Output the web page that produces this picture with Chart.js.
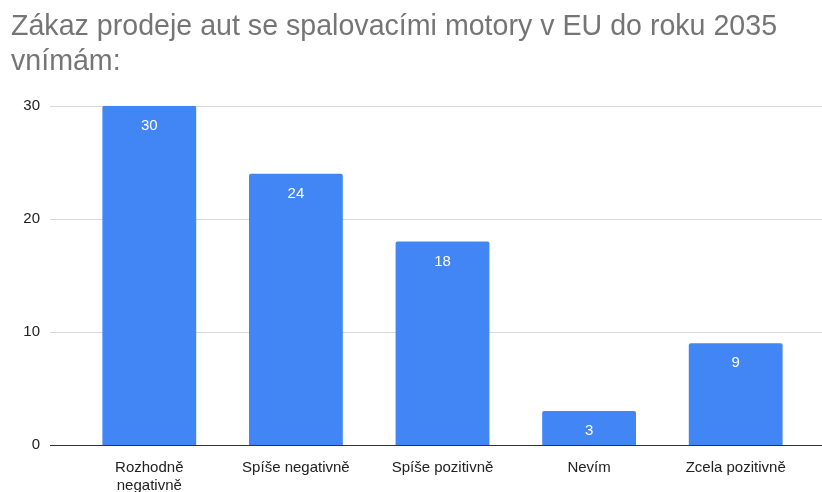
<!DOCTYPE html>
<html>
<head>
<meta charset="utf-8">
<script src="https://cdn.jsdelivr.net/npm/chart.js@4"></script>
<style>
  html, body { margin: 0; padding: 0; background: #fff; }
  #wrap { width: 822px; height: 492px; position: relative; }
</style>
</head>
<body>
<div id="wrap"><canvas id="c"></canvas></div>
<script>
// data
const categories = [['Rozhodně', 'negativně'], 'Spíše negativně', 'Spíše pozitivně', 'Nevím', 'Zcela pozitivně'];
const counts = [30, 24, 18, 3, 9];
const yTicks = [0, 10, 20, 30];
const titleLines = ['Zákaz prodeje aut se spalovacími motory v EU do roku 2035', 'vnímám:'];

const barBlue = '#4285f4';
const fontFam = '"Liberation Sans", Arial, sans-serif';

//gridlines run wider than the plot area, so draw them here
const gridPlugin = {
	id: 'wideGrid',
	beforeDatasetsDraw(chart) {
		const ctx = chart.ctx;
		const y = chart.scales.y;
		ctx.save();
		yTicks.forEach((v) => {
			const py = Math.round(y.getPixelForValue(v)) + 0.5;
			ctx.strokeStyle = v === 0 ? '#333333' : '#d9d9d9';
			ctx.lineWidth = 1;
			ctx.beginPath();
			ctx.moveTo(50, py);
			ctx.lineTo(chart.width, py);
			ctx.stroke();
		});
		ctx.restore();
	}
};

//white value labels inside the top of each bar
const valuePlugin = {
	id: 'values',
	afterDatasetsDraw(chart) {
		const ctx = chart.ctx;
		const meta = chart.getDatasetMeta(0);
		ctx.save();
		ctx.fillStyle = '#ffffff';
		ctx.font = '15px ' + fontFam;
		ctx.textAlign = 'center';
		ctx.textBaseline = 'middle';
		meta.data.forEach((bar, i) => {
			ctx.fillText(String(counts[i]), bar.x, bar.y + 20);
		});
		ctx.restore();
	}
};

new Chart(document.getElementById('c'), {
	type: 'bar',
	data: {
		labels: categories,
		datasets: [{
			data: counts,
			backgroundColor: barBlue,
			borderRadius: 2,
			categoryPercentage: 1,
			barPercentage: 0.64
		}]
	},
	options: {
		responsive: true,
		maintainAspectRatio: false,
		animation: false,
		layout: { padding: { left: 11, right: 13, top: 0, bottom: 0 } },
		plugins: {
			legend: { display: false },
			tooltip: { enabled: false },
			title: {
				display: true,
				text: titleLines,
				align: 'start',
				color: '#757575',
				font: { family: fontFam, size: 28.6, weight: 'normal', lineHeight: 1.22 },
				padding: { top: 10, bottom: 26 }
			}
		},
		scales: {
			x: {
				grid: { display: false },
				border: { display: false },
				ticks: {
					color: '#222222',
					font: { family: fontFam, size: 15, lineHeight: 1.25 },
					padding: 5,
					maxRotation: 0,
					autoSkip: false
				},
				afterFit(scale) { scale.height = 47; }
			},
			y: {
				min: 0,
				max: 30,
				grid: { display: false },
				border: { display: false },
				ticks: {
					stepSize: 10,
					color: '#222222',
					font: { family: fontFam, size: 15 },
					padding: 28
				},
				afterFit(scale) { scale.width = 65; }
			}
		}
	},
	plugins: [gridPlugin, valuePlugin]
});
</script>
</body>
</html>
